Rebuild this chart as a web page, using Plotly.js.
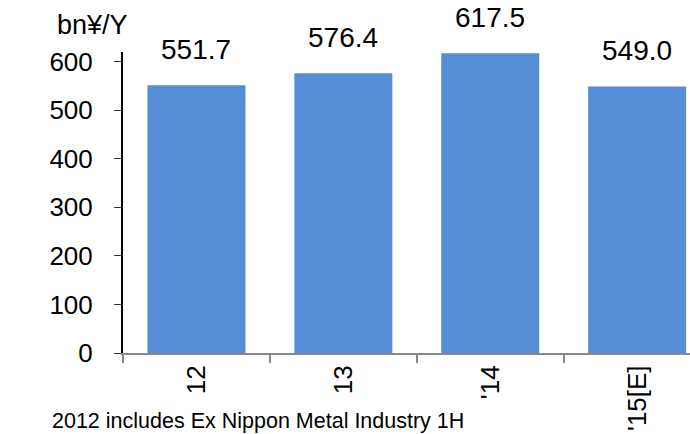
<!DOCTYPE html>
<html><head><meta charset="utf-8">
<script src="https://cdn.plot.ly/plotly-3.0.1.min.js"></script>
<style>html,body{margin:0;padding:0;background:#fff}#c{width:690px;height:434px}</style>
</head><body><div id="c"></div>
<script>
var categories = ["'12", "'13", "'14", "'15[E]"];
var tickLabels = ["12", "13", "'14", "'15[E]"];
var values = [551.7, 576.4, 617.5, 549.0];
var valueLabels = ["551.7", "576.4", "617.5", "549.0"];
var unitLabel = "bn¥/Y";
var footnote = "2012 includes Ex Nippon Metal Industry 1H";

var font = "Liberation Sans, Arial, sans-serif";
var trace = {
  type: 'bar', x: categories, y: values,
  marker: {color: '#558ED5'}, hoverinfo: 'none'
};
var anns = categories.map(function(c, i){
  return {x: c, y: values[i], xref: 'x', yref: 'y', text: valueLabels[i],
    showarrow: false, yanchor: 'bottom', yshift: 18,
    font: {family: font, size: 28, color: '#000'}};
});
anns.push({xref: 'paper', yref: 'paper', x: -0.12, y: 1.09, xanchor: 'left', yanchor: 'middle',
  text: unitLabel, showarrow: false, font: {family: font, size: 27, color: '#000'}});
anns.push({xref: 'paper', yref: 'paper', x: -0.13, y: -0.226, xanchor: 'left', yanchor: 'middle',
  text: footnote, showarrow: false, bgcolor: '#fff', borderpad: 2,
  font: {family: font, size: 21.5, color: '#000'}});

var layout = {
  width: 690, height: 434,
  margin: {l: 123, r: 0, t: 52, b: 81},
  paper_bgcolor: '#fff', plot_bgcolor: '#fff',
  showlegend: false, bargap: 0.333,
  font: {family: font, color: '#000'},
  xaxis: {type: 'category', range: [-0.5, 3.36], showline: true, linecolor: '#888', linewidth: 2,
    ticks: 'outside', tickson: 'boundaries', ticklen: 8, tickcolor: '#888', tickwidth: 2,
    tickmode: 'array', tickvals: categories, ticktext: tickLabels,
    tickangle: -90, tickfont: {family: font, size: 26, color: '#000'}, showgrid: false, zeroline: false},
  yaxis: {range: [0, 620], tickvals: [0,100,200,300,400,500,600], showline: true, linecolor: '#000', linewidth: 2,
    ticks: 'outside', ticklen: 7, tickcolor: '#333', tickwidth: 1, ticklabelstandoff: 16,
    tickfont: {family: font, size: 26, color: '#000'}, showgrid: false, zeroline: false},
  annotations: anns
};
Plotly.newPlot('c', [trace], layout, {staticPlot: true});
</script></body></html>
